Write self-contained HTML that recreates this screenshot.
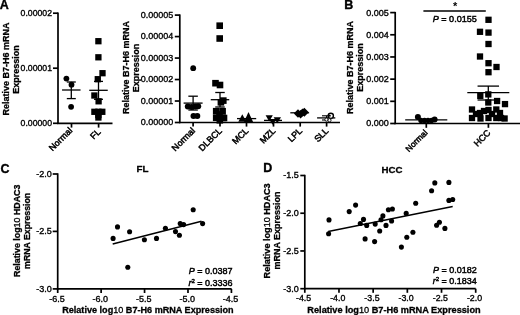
<!DOCTYPE html>
<html><head><meta charset="utf-8"><style>
html,body{margin:0;padding:0;background:#fff;}
svg{display:block;will-change:transform;}
text{font-family:"Liberation Sans", sans-serif;fill:#000;}
</style></head><body>
<svg width="520" height="315" viewBox="0 0 520 315">
<rect width="520" height="315" fill="#fff"/>
<text x="-0.20" y="8.50" font-size="12.5" text-anchor="start" font-weight="bold" stroke="#000" stroke-width="0.35">A</text>
<text x="344.30" y="8.60" font-size="12.5" text-anchor="start" font-weight="bold" stroke="#000" stroke-width="0.35">B</text>
<text x="0.60" y="172.70" font-size="12.5" text-anchor="start" font-weight="bold" stroke="#000" stroke-width="0.35">C</text>
<text x="263.30" y="172.20" font-size="12.5" text-anchor="start" font-weight="bold" stroke="#000" stroke-width="0.35">D</text>
<text transform="translate(8.80,68.90) rotate(-90)" font-size="9" text-anchor="middle" font-weight="bold" stroke="#000" stroke-width="0.3">Relative B7-H6 mRNA</text>
<text transform="translate(19.00,69.40) rotate(-90)" font-size="9" text-anchor="middle" font-weight="bold" stroke="#000" stroke-width="0.3">Expression</text>
<line x1="58.00" y1="12.50" x2="58.00" y2="124.10" stroke="#000" stroke-width="1.7"/>
<line x1="53.00" y1="13.20" x2="58.00" y2="13.20" stroke="#000" stroke-width="1.7"/>
<text x="52.00" y="16.10" font-size="8.7" text-anchor="end" stroke="#000" stroke-width="0.35">0.00002</text>
<line x1="53.00" y1="68.20" x2="58.00" y2="68.20" stroke="#000" stroke-width="1.7"/>
<text x="52.00" y="71.10" font-size="8.7" text-anchor="end" stroke="#000" stroke-width="0.35">0.00001</text>
<line x1="53.00" y1="123.30" x2="58.00" y2="123.30" stroke="#000" stroke-width="1.7"/>
<text x="52.00" y="126.20" font-size="8.7" text-anchor="end" stroke="#000" stroke-width="0.35">0.00000</text>
<line x1="57.20" y1="123.40" x2="112.50" y2="123.40" stroke="#000" stroke-width="1.7"/>
<line x1="71.50" y1="123.40" x2="71.50" y2="127.60" stroke="#000" stroke-width="1.7"/>
<line x1="98.60" y1="123.40" x2="98.60" y2="127.60" stroke="#000" stroke-width="1.7"/>
<text transform="translate(72.80,131.20) rotate(-45)" font-size="8.9" text-anchor="end" stroke="#000" stroke-width="0.5">Normal</text>
<text transform="translate(101.20,132.40) rotate(-45)" font-size="8.9" text-anchor="end" stroke="#000" stroke-width="0.5">FL</text>
<circle cx="66.4" cy="78.6" r="2.9" fill="#000"/>
<circle cx="71.5" cy="84.7" r="2.9" fill="#000"/>
<circle cx="71.1" cy="106.8" r="2.9" fill="#000"/>
<line x1="62.05" y1="90.00" x2="80.55" y2="90.00" stroke="#000" stroke-width="1.3"/>
<line x1="71.30" y1="82.00" x2="71.30" y2="98.60" stroke="#000" stroke-width="1.3"/>
<line x1="66.80" y1="82.00" x2="75.80" y2="82.00" stroke="#000" stroke-width="1.3"/>
<line x1="66.80" y1="98.60" x2="75.80" y2="98.60" stroke="#000" stroke-width="1.3"/>
<rect x="95.25" y="38.05" width="6.3" height="6.3" fill="#000"/>
<rect x="95.25" y="54.15" width="6.3" height="6.3" fill="#000"/>
<rect x="99.35" y="70.05" width="6.3" height="6.3" fill="#000"/>
<rect x="94.65" y="76.05" width="6.3" height="6.3" fill="#000"/>
<rect x="91.25" y="92.35" width="6.3" height="6.3" fill="#000"/>
<rect x="95.45" y="98.15" width="6.3" height="6.3" fill="#000"/>
<rect x="91.25" y="108.65" width="6.3" height="6.3" fill="#000"/>
<rect x="95.25" y="108.65" width="6.3" height="6.3" fill="#000"/>
<rect x="99.15" y="108.65" width="6.3" height="6.3" fill="#000"/>
<rect x="95.25" y="114.35" width="6.3" height="6.3" fill="#000"/>
<rect x="95.25" y="111.85" width="6.3" height="6.3" fill="#000"/>
<line x1="89.25" y1="90.30" x2="107.75" y2="90.30" stroke="#000" stroke-width="1.3"/>
<line x1="98.50" y1="81.40" x2="98.50" y2="99.30" stroke="#000" stroke-width="1.3"/>
<line x1="94.00" y1="81.40" x2="103.00" y2="81.40" stroke="#000" stroke-width="1.3"/>
<line x1="94.00" y1="99.30" x2="103.00" y2="99.30" stroke="#000" stroke-width="1.3"/>
<text transform="translate(128.70,67.40) rotate(-90)" font-size="9.0" text-anchor="middle" font-weight="bold" stroke="#000" stroke-width="0.3">Relative B7-H6 mRNA</text>
<text transform="translate(139.40,68.00) rotate(-90)" font-size="9.0" text-anchor="middle" font-weight="bold" stroke="#000" stroke-width="0.3">Expression</text>
<line x1="179.80" y1="14.40" x2="179.80" y2="123.20" stroke="#000" stroke-width="1.7"/>
<line x1="174.80" y1="15.10" x2="179.80" y2="15.10" stroke="#000" stroke-width="1.7"/>
<text x="173.30" y="18.00" font-size="9.0" text-anchor="end" stroke="#000" stroke-width="0.35">0.00005</text>
<line x1="174.80" y1="36.58" x2="179.80" y2="36.58" stroke="#000" stroke-width="1.7"/>
<text x="173.30" y="39.48" font-size="9.0" text-anchor="end" stroke="#000" stroke-width="0.35">0.00004</text>
<line x1="174.80" y1="58.06" x2="179.80" y2="58.06" stroke="#000" stroke-width="1.7"/>
<text x="173.30" y="60.96" font-size="9.0" text-anchor="end" stroke="#000" stroke-width="0.35">0.00003</text>
<line x1="174.80" y1="79.54" x2="179.80" y2="79.54" stroke="#000" stroke-width="1.7"/>
<text x="173.30" y="82.44" font-size="9.0" text-anchor="end" stroke="#000" stroke-width="0.35">0.00002</text>
<line x1="174.80" y1="101.02" x2="179.80" y2="101.02" stroke="#000" stroke-width="1.7"/>
<text x="173.30" y="103.92" font-size="9.0" text-anchor="end" stroke="#000" stroke-width="0.35">0.00001</text>
<line x1="174.80" y1="122.50" x2="179.80" y2="122.50" stroke="#000" stroke-width="1.7"/>
<text x="173.30" y="125.40" font-size="9.0" text-anchor="end" stroke="#000" stroke-width="0.35">0.00000</text>
<line x1="179.10" y1="122.50" x2="340.00" y2="122.50" stroke="#000" stroke-width="1.7"/>
<line x1="193.10" y1="122.50" x2="193.10" y2="126.60" stroke="#000" stroke-width="1.7"/>
<line x1="220.00" y1="122.50" x2="220.00" y2="126.60" stroke="#000" stroke-width="1.7"/>
<line x1="246.50" y1="122.50" x2="246.50" y2="126.60" stroke="#000" stroke-width="1.7"/>
<line x1="273.50" y1="122.50" x2="273.50" y2="126.60" stroke="#000" stroke-width="1.7"/>
<line x1="300.20" y1="122.50" x2="300.20" y2="126.60" stroke="#000" stroke-width="1.7"/>
<line x1="326.60" y1="122.50" x2="326.60" y2="126.60" stroke="#000" stroke-width="1.7"/>
<text transform="translate(195.60,131.40) rotate(-45)" font-size="8.9" text-anchor="end" stroke="#000" stroke-width="0.5">Normal</text>
<text transform="translate(222.50,131.40) rotate(-45)" font-size="8.9" text-anchor="end" stroke="#000" stroke-width="0.5">DLBCL</text>
<text transform="translate(249.00,131.40) rotate(-45)" font-size="8.9" text-anchor="end" stroke="#000" stroke-width="0.5">MCL</text>
<text transform="translate(276.00,131.40) rotate(-45)" font-size="8.9" text-anchor="end" stroke="#000" stroke-width="0.5">MZL</text>
<text transform="translate(302.70,131.40) rotate(-45)" font-size="8.9" text-anchor="end" stroke="#000" stroke-width="0.5">LPL</text>
<text transform="translate(329.10,131.40) rotate(-45)" font-size="8.9" text-anchor="end" stroke="#000" stroke-width="0.5">SLL</text>
<circle cx="193.2" cy="68.2" r="2.9" fill="#000"/>
<circle cx="187.8" cy="106.6" r="3.0" fill="#000"/>
<circle cx="191.5" cy="107.0" r="3.0" fill="#000"/>
<circle cx="195.3" cy="106.6" r="3.0" fill="#000"/>
<circle cx="198.2" cy="106.2" r="3.0" fill="#000"/>
<circle cx="193.5" cy="116.0" r="3.0" fill="#000"/>
<circle cx="197.3" cy="116.0" r="3.0" fill="#000"/>
<line x1="183.60" y1="103.10" x2="202.60" y2="103.10" stroke="#000" stroke-width="1.3"/>
<line x1="193.10" y1="96.20" x2="193.10" y2="110.00" stroke="#000" stroke-width="1.3"/>
<line x1="188.35" y1="96.20" x2="197.85" y2="96.20" stroke="#000" stroke-width="1.3"/>
<line x1="188.35" y1="110.00" x2="197.85" y2="110.00" stroke="#000" stroke-width="1.3"/>
<rect x="216.40" y="22.40" width="6.6" height="6.6" fill="#000"/>
<rect x="216.40" y="35.20" width="6.6" height="6.6" fill="#000"/>
<rect x="212.20" y="79.90" width="6.6" height="6.6" fill="#000"/>
<rect x="216.70" y="81.70" width="6.6" height="6.6" fill="#000"/>
<rect x="217.60" y="99.00" width="6.6" height="6.6" fill="#000"/>
<rect x="220.00" y="97.30" width="6.6" height="6.6" fill="#000"/>
<rect x="212.90" y="107.90" width="6.6" height="6.6" fill="#000"/>
<rect x="219.30" y="107.90" width="6.6" height="6.6" fill="#000"/>
<rect x="212.90" y="114.50" width="6.6" height="6.6" fill="#000"/>
<rect x="219.30" y="114.50" width="6.6" height="6.6" fill="#000"/>
<rect x="216.20" y="111.20" width="6.6" height="6.6" fill="#000"/>
<rect x="220.70" y="114.70" width="6.6" height="6.6" fill="#000"/>
<rect x="216.50" y="117.00" width="6.6" height="6.6" fill="#000"/>
<line x1="210.75" y1="99.70" x2="229.25" y2="99.70" stroke="#000" stroke-width="1.3"/>
<line x1="220.00" y1="92.50" x2="220.00" y2="107.00" stroke="#000" stroke-width="1.3"/>
<line x1="215.25" y1="92.50" x2="224.75" y2="92.50" stroke="#000" stroke-width="1.3"/>
<line x1="215.25" y1="107.00" x2="224.75" y2="107.00" stroke="#000" stroke-width="1.3"/>
<polygon points="242.3,114.3 246.3,121.8 238.3,121.8" fill="#000"/>
<polygon points="248.5,112.0 253.2,122.2 243.8,122.2" fill="#000"/>
<line x1="237.00" y1="118.60" x2="256.20" y2="118.60" stroke="#000" stroke-width="1.3"/>
<polygon points="265.6,115.3 272.8,115.3 269.2,121.5" fill="#000"/>
<polygon points="273.6,117.3 281.0,117.3 277.3,123.3" fill="#000"/>
<polygon points="268.8,119.0 276.6,119.0 272.7,124.8" fill="#000"/>
<line x1="264.00" y1="120.40" x2="282.00" y2="120.40" stroke="#000" stroke-width="1.3"/>
<line x1="290.30" y1="112.80" x2="309.10" y2="112.80" stroke="#000" stroke-width="1.3"/>
<polygon points="298.0,109.3 302.2,113.5 298.0,117.7 293.8,113.5" fill="#000"/>
<polygon points="300.6,110.0 304.8,114.2 300.6,118.4 296.40000000000003,114.2" fill="#000"/>
<polygon points="304.3,107.7 308.8,112.2 304.3,116.7 299.8,112.2" fill="#000"/>
<polygon points="302.5,108.5 306.5,112.5 302.5,116.5 298.5,112.5" fill="#000"/>
<line x1="317.10" y1="117.90" x2="335.30" y2="117.90" stroke="#000" stroke-width="1.3"/>
<line x1="322.00" y1="115.80" x2="328.00" y2="115.80" stroke="#000" stroke-width="1.1"/>
<line x1="322.00" y1="120.00" x2="331.00" y2="120.00" stroke="#000" stroke-width="1.1"/>
<line x1="326.60" y1="115.80" x2="326.60" y2="120.00" stroke="#000" stroke-width="1.1"/>
<circle cx="330.8" cy="115.8" r="2.6" fill="#fff" stroke="#000" stroke-width="1.4"/>
<circle cx="329.8" cy="115.8" r="1.0" fill="#000"/>
<circle cx="326.5" cy="119.6" r="1.6" fill="#fff" stroke="#000" stroke-width="0.9"/>
<circle cx="329.5" cy="120.2" r="1.6" fill="#fff" stroke="#000" stroke-width="0.9"/>
<text transform="translate(352.70,67.50) rotate(-90)" font-size="9" text-anchor="middle" font-weight="bold" stroke="#000" stroke-width="0.3">Relative B7-H6 mRNA</text>
<text transform="translate(362.90,67.50) rotate(-90)" font-size="9" text-anchor="middle" font-weight="bold" stroke="#000" stroke-width="0.3">Expression</text>
<line x1="395.20" y1="11.90" x2="395.20" y2="124.20" stroke="#000" stroke-width="1.7"/>
<line x1="390.20" y1="12.60" x2="395.20" y2="12.60" stroke="#000" stroke-width="1.7"/>
<text x="388.70" y="15.50" font-size="9.0" text-anchor="end" stroke="#000" stroke-width="0.35">0.005</text>
<line x1="390.20" y1="34.78" x2="395.20" y2="34.78" stroke="#000" stroke-width="1.7"/>
<text x="388.70" y="37.68" font-size="9.0" text-anchor="end" stroke="#000" stroke-width="0.35">0.004</text>
<line x1="390.20" y1="56.96" x2="395.20" y2="56.96" stroke="#000" stroke-width="1.7"/>
<text x="388.70" y="59.86" font-size="9.0" text-anchor="end" stroke="#000" stroke-width="0.35">0.003</text>
<line x1="390.20" y1="79.14" x2="395.20" y2="79.14" stroke="#000" stroke-width="1.7"/>
<text x="388.70" y="82.04" font-size="9.0" text-anchor="end" stroke="#000" stroke-width="0.35">0.002</text>
<line x1="390.20" y1="101.32" x2="395.20" y2="101.32" stroke="#000" stroke-width="1.7"/>
<text x="388.70" y="104.22" font-size="9.0" text-anchor="end" stroke="#000" stroke-width="0.35">0.001</text>
<line x1="390.20" y1="123.50" x2="395.20" y2="123.50" stroke="#000" stroke-width="1.7"/>
<text x="388.70" y="126.40" font-size="9.0" text-anchor="end" stroke="#000" stroke-width="0.35">0.000</text>
<line x1="394.50" y1="123.50" x2="520.00" y2="123.50" stroke="#000" stroke-width="1.7"/>
<line x1="426.30" y1="123.50" x2="426.30" y2="127.80" stroke="#000" stroke-width="1.7"/>
<line x1="488.40" y1="123.50" x2="488.40" y2="127.80" stroke="#000" stroke-width="1.7"/>
<text transform="translate(428.00,133.30) rotate(-45)" font-size="8.4" text-anchor="end" stroke="#000" stroke-width="0.5">Normal</text>
<text transform="translate(491.00,133.40) rotate(-45)" font-size="8.9" text-anchor="end" stroke="#000" stroke-width="0.5">HCC</text>
<line x1="423.40" y1="11.00" x2="485.80" y2="11.00" stroke="#000" stroke-width="1.5"/>
<text x="455.10" y="10.20" font-size="11" text-anchor="middle" font-weight="bold">*</text>
<text x="454.8" y="22.3" font-size="9.1" text-anchor="middle" stroke="#000" stroke-width="0.45"><tspan font-style="italic">P</tspan> = 0.0155</text>
<line x1="405.20" y1="119.80" x2="447.30" y2="119.80" stroke="#000" stroke-width="1.3"/>
<circle cx="417.9" cy="117.1" r="3.0" fill="#000"/>
<circle cx="434.6" cy="119.4" r="3.0" fill="#000"/>
<circle cx="421.0" cy="120.4" r="2.7" fill="#000"/>
<circle cx="424.5" cy="120.4" r="2.7" fill="#000"/>
<circle cx="428.0" cy="120.4" r="2.7" fill="#000"/>
<circle cx="431.5" cy="120.4" r="2.7" fill="#000"/>
<rect x="485.35" y="16.65" width="6.3" height="6.3" fill="#000"/>
<rect x="476.85" y="28.65" width="6.3" height="6.3" fill="#000"/>
<rect x="485.35" y="29.45" width="6.3" height="6.3" fill="#000"/>
<rect x="485.35" y="40.85" width="6.3" height="6.3" fill="#000"/>
<rect x="476.85" y="53.35" width="6.3" height="6.3" fill="#000"/>
<rect x="485.35" y="60.05" width="6.3" height="6.3" fill="#000"/>
<rect x="493.35" y="63.85" width="6.3" height="6.3" fill="#000"/>
<rect x="485.35" y="69.05" width="6.3" height="6.3" fill="#000"/>
<rect x="485.15" y="91.25" width="6.3" height="6.3" fill="#000"/>
<rect x="477.15" y="92.75" width="6.3" height="6.3" fill="#000"/>
<rect x="485.15" y="99.35" width="6.3" height="6.3" fill="#000"/>
<rect x="493.95" y="97.85" width="6.3" height="6.3" fill="#000"/>
<rect x="501.85" y="100.95" width="6.3" height="6.3" fill="#000"/>
<rect x="468.85" y="106.35" width="6.3" height="6.3" fill="#000"/>
<rect x="468.85" y="114.85" width="6.3" height="6.3" fill="#000"/>
<rect x="476.85" y="109.85" width="6.3" height="6.3" fill="#000"/>
<rect x="477.35" y="115.35" width="6.3" height="6.3" fill="#000"/>
<rect x="480.85" y="107.85" width="6.3" height="6.3" fill="#000"/>
<rect x="485.35" y="106.85" width="6.3" height="6.3" fill="#000"/>
<rect x="485.35" y="114.85" width="6.3" height="6.3" fill="#000"/>
<rect x="488.85" y="110.85" width="6.3" height="6.3" fill="#000"/>
<rect x="493.15" y="106.35" width="6.3" height="6.3" fill="#000"/>
<rect x="493.15" y="114.85" width="6.3" height="6.3" fill="#000"/>
<rect x="496.85" y="109.85" width="6.3" height="6.3" fill="#000"/>
<rect x="501.45" y="115.35" width="6.3" height="6.3" fill="#000"/>
<rect x="472.85" y="110.85" width="6.3" height="6.3" fill="#000"/>
<rect x="497.85" y="114.85" width="6.3" height="6.3" fill="#000"/>
<line x1="467.30" y1="92.60" x2="509.30" y2="92.60" stroke="#000" stroke-width="1.3"/>
<line x1="488.30" y1="86.10" x2="488.30" y2="100.00" stroke="#000" stroke-width="1.3"/>
<line x1="477.55" y1="86.10" x2="499.05" y2="86.10" stroke="#000" stroke-width="1.3"/>
<line x1="477.55" y1="100.00" x2="499.05" y2="100.00" stroke="#000" stroke-width="1.3"/>
<text x="142.50" y="172.40" font-size="9.8" text-anchor="middle" font-weight="bold" stroke="#000" stroke-width="0.3">FL</text>
<text transform="translate(19.80,230.80) rotate(-90)" font-size="8.85" text-anchor="middle" font-weight="bold" stroke="#000" stroke-width="0.3">Relative log<tspan font-weight="normal">10</tspan> HDAC3</text>
<text transform="translate(30.10,230.90) rotate(-90)" font-size="8.75" text-anchor="middle" font-weight="bold" stroke="#000" stroke-width="0.3">mRNA Expression</text>
<line x1="57.70" y1="173.30" x2="57.70" y2="289.60" stroke="#000" stroke-width="1.7"/>
<line x1="52.70" y1="174.00" x2="57.70" y2="174.00" stroke="#000" stroke-width="1.7"/>
<text x="51.80" y="176.90" font-size="9.0" text-anchor="end" stroke="#000" stroke-width="0.35">-2.0</text>
<line x1="52.70" y1="231.40" x2="57.70" y2="231.40" stroke="#000" stroke-width="1.7"/>
<text x="51.80" y="234.30" font-size="9.0" text-anchor="end" stroke="#000" stroke-width="0.35">-2.5</text>
<line x1="52.70" y1="288.90" x2="57.70" y2="288.90" stroke="#000" stroke-width="1.7"/>
<text x="51.80" y="291.80" font-size="9.0" text-anchor="end" stroke="#000" stroke-width="0.35">-3.0</text>
<line x1="56.90" y1="288.90" x2="231.60" y2="288.90" stroke="#000" stroke-width="1.7"/>
<line x1="57.70" y1="288.90" x2="57.70" y2="293.00" stroke="#000" stroke-width="1.7"/>
<text x="56.90" y="302.30" font-size="9.0" text-anchor="middle" stroke="#000" stroke-width="0.35">-6.5</text>
<line x1="101.13" y1="288.90" x2="101.13" y2="293.00" stroke="#000" stroke-width="1.7"/>
<text x="100.33" y="302.30" font-size="9.0" text-anchor="middle" stroke="#000" stroke-width="0.35">-6.0</text>
<line x1="144.56" y1="288.90" x2="144.56" y2="293.00" stroke="#000" stroke-width="1.7"/>
<text x="143.76" y="302.30" font-size="9.0" text-anchor="middle" stroke="#000" stroke-width="0.35">-5.5</text>
<line x1="187.99" y1="288.90" x2="187.99" y2="293.00" stroke="#000" stroke-width="1.7"/>
<text x="187.19" y="302.30" font-size="9.0" text-anchor="middle" stroke="#000" stroke-width="0.35">-5.0</text>
<line x1="231.42" y1="288.90" x2="231.42" y2="293.00" stroke="#000" stroke-width="1.7"/>
<text x="230.62" y="302.30" font-size="9.0" text-anchor="middle" stroke="#000" stroke-width="0.35">-4.5</text>
<text x="147.90" y="312.90" font-size="9.1" text-anchor="middle" font-weight="bold" stroke="#000" stroke-width="0.3">Relative log<tspan font-weight="normal">10</tspan> B7-H6 mRNA Expression</text>
<circle cx="117.5" cy="226.9" r="2.55" fill="#000"/>
<circle cx="129.6" cy="231.7" r="2.55" fill="#000"/>
<circle cx="113.1" cy="238.4" r="2.55" fill="#000"/>
<circle cx="144.4" cy="239.8" r="2.55" fill="#000"/>
<circle cx="156.5" cy="238.4" r="2.55" fill="#000"/>
<circle cx="165.4" cy="228.2" r="2.55" fill="#000"/>
<circle cx="175.5" cy="231.6" r="2.55" fill="#000"/>
<circle cx="179.4" cy="235.3" r="2.55" fill="#000"/>
<circle cx="180.2" cy="223.6" r="2.55" fill="#000"/>
<circle cx="183.6" cy="224.6" r="2.55" fill="#000"/>
<circle cx="193.2" cy="209.7" r="2.55" fill="#000"/>
<circle cx="202.6" cy="223.6" r="2.55" fill="#000"/>
<circle cx="127.8" cy="267.3" r="2.55" fill="#000"/>
<line x1="112.70" y1="244.00" x2="201.50" y2="221.20" stroke="#000" stroke-width="1.4"/>
<text x="232.6" y="274.4" font-size="9" text-anchor="end" stroke="#000" stroke-width="0.45"><tspan font-style="italic">P</tspan> = 0.0387</text>
<text x="232.6" y="285.8" font-size="9" text-anchor="end" stroke="#000" stroke-width="0.45"><tspan font-style="italic">r</tspan><tspan font-size="6" dy="-3">2</tspan><tspan dy="3"> = 0.3336</tspan></text>
<text x="392.10" y="172.80" font-size="9.7" text-anchor="middle" font-weight="bold" stroke="#000" stroke-width="0.3">HCC</text>
<text transform="translate(270.00,230.90) rotate(-90)" font-size="9.1" text-anchor="middle" font-weight="bold" stroke="#000" stroke-width="0.3">Relative log<tspan font-weight="normal">10</tspan> HDAC3</text>
<text transform="translate(280.20,230.50) rotate(-90)" font-size="9" text-anchor="middle" font-weight="bold" stroke="#000" stroke-width="0.3">mRNA Expression</text>
<line x1="304.80" y1="174.80" x2="304.80" y2="289.40" stroke="#000" stroke-width="1.7"/>
<line x1="300.30" y1="175.50" x2="304.80" y2="175.50" stroke="#000" stroke-width="1.7"/>
<text x="298.80" y="178.40" font-size="9.0" text-anchor="end" stroke="#000" stroke-width="0.35">-1.5</text>
<line x1="300.30" y1="213.23" x2="304.80" y2="213.23" stroke="#000" stroke-width="1.7"/>
<text x="298.80" y="216.13" font-size="9.0" text-anchor="end" stroke="#000" stroke-width="0.35">-2.0</text>
<line x1="300.30" y1="250.96" x2="304.80" y2="250.96" stroke="#000" stroke-width="1.7"/>
<text x="298.80" y="253.86" font-size="9.0" text-anchor="end" stroke="#000" stroke-width="0.35">-2.5</text>
<line x1="300.30" y1="288.69" x2="304.80" y2="288.69" stroke="#000" stroke-width="1.7"/>
<text x="298.80" y="291.59" font-size="9.0" text-anchor="end" stroke="#000" stroke-width="0.35">-3.0</text>
<line x1="304.10" y1="288.70" x2="475.70" y2="288.70" stroke="#000" stroke-width="1.7"/>
<line x1="304.80" y1="288.70" x2="304.80" y2="292.80" stroke="#000" stroke-width="1.7"/>
<text x="303.60" y="300.50" font-size="8.8" text-anchor="middle" stroke="#000" stroke-width="0.35">-4.5</text>
<line x1="338.98" y1="288.70" x2="338.98" y2="292.80" stroke="#000" stroke-width="1.7"/>
<text x="337.78" y="300.50" font-size="8.8" text-anchor="middle" stroke="#000" stroke-width="0.35">-4.0</text>
<line x1="373.16" y1="288.70" x2="373.16" y2="292.80" stroke="#000" stroke-width="1.7"/>
<text x="371.96" y="300.50" font-size="8.8" text-anchor="middle" stroke="#000" stroke-width="0.35">-3.5</text>
<line x1="407.34" y1="288.70" x2="407.34" y2="292.80" stroke="#000" stroke-width="1.7"/>
<text x="406.14" y="300.50" font-size="8.8" text-anchor="middle" stroke="#000" stroke-width="0.35">-3.0</text>
<line x1="441.52" y1="288.70" x2="441.52" y2="292.80" stroke="#000" stroke-width="1.7"/>
<text x="440.32" y="300.50" font-size="8.8" text-anchor="middle" stroke="#000" stroke-width="0.35">-2.5</text>
<line x1="475.70" y1="288.70" x2="475.70" y2="292.80" stroke="#000" stroke-width="1.7"/>
<text x="474.50" y="300.50" font-size="8.8" text-anchor="middle" stroke="#000" stroke-width="0.35">-2.0</text>
<text x="394.00" y="313.20" font-size="9.2" text-anchor="middle" font-weight="bold" stroke="#000" stroke-width="0.3">Relative log<tspan font-weight="normal">10</tspan> B7-H6 mRNA Expression</text>
<circle cx="328.6" cy="233.8" r="2.55" fill="#000"/>
<circle cx="329" cy="219.9" r="2.55" fill="#000"/>
<circle cx="349.2" cy="211.6" r="2.55" fill="#000"/>
<circle cx="355.6" cy="205.1" r="2.55" fill="#000"/>
<circle cx="360.3" cy="223.5" r="2.55" fill="#000"/>
<circle cx="363.5" cy="219.4" r="2.55" fill="#000"/>
<circle cx="366.7" cy="225.4" r="2.55" fill="#000"/>
<circle cx="365.1" cy="238.9" r="2.55" fill="#000"/>
<circle cx="374.6" cy="241.6" r="2.55" fill="#000"/>
<circle cx="375.2" cy="224.1" r="2.55" fill="#000"/>
<circle cx="381" cy="219.8" r="2.55" fill="#000"/>
<circle cx="382.9" cy="215.9" r="2.55" fill="#000"/>
<circle cx="379.7" cy="231" r="2.55" fill="#000"/>
<circle cx="386" cy="225.4" r="2.55" fill="#000"/>
<circle cx="391.6" cy="221" r="2.55" fill="#000"/>
<circle cx="388.4" cy="209.8" r="2.55" fill="#000"/>
<circle cx="392.4" cy="209" r="2.55" fill="#000"/>
<circle cx="406.2" cy="213.4" r="2.55" fill="#000"/>
<circle cx="415.7" cy="203.3" r="2.55" fill="#000"/>
<circle cx="406.8" cy="237.2" r="2.55" fill="#000"/>
<circle cx="412.9" cy="232.3" r="2.55" fill="#000"/>
<circle cx="401.4" cy="247.1" r="2.55" fill="#000"/>
<circle cx="431.6" cy="190.7" r="2.55" fill="#000"/>
<circle cx="434.8" cy="182.9" r="2.55" fill="#000"/>
<circle cx="448.9" cy="182.4" r="2.55" fill="#000"/>
<circle cx="448.9" cy="200.4" r="2.55" fill="#000"/>
<circle cx="452.7" cy="199.5" r="2.55" fill="#000"/>
<circle cx="436.6" cy="225.2" r="2.55" fill="#000"/>
<circle cx="439.4" cy="222.3" r="2.55" fill="#000"/>
<circle cx="444.9" cy="228.4" r="2.55" fill="#000"/>
<line x1="328.20" y1="231.50" x2="452.70" y2="206.50" stroke="#000" stroke-width="1.4"/>
<text x="476.8" y="273.0" font-size="9" text-anchor="end" stroke="#000" stroke-width="0.45"><tspan font-style="italic">P</tspan> = 0.0182</text>
<text x="476.8" y="283.6" font-size="9" text-anchor="end" stroke="#000" stroke-width="0.45"><tspan font-style="italic">r</tspan><tspan font-size="6" dy="-3">2</tspan><tspan dy="3"> = 0.1834</tspan></text>
</svg>
</body></html>
